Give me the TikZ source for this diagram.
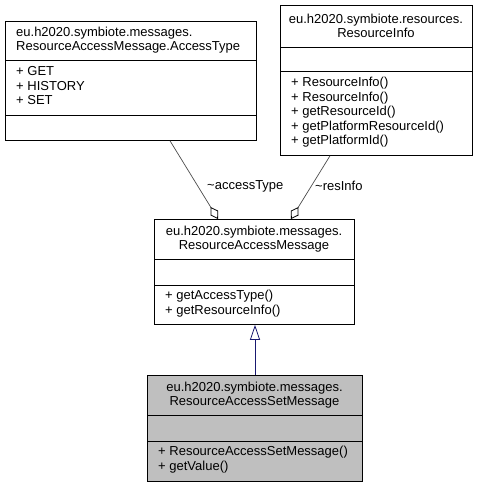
\documentclass[tikz,border=0pt]{standalone}
\usepackage{fontspec}
\setmainfont{Liberation Sans}
\usetikzlibrary{arrows.meta,calc}
\definecolor{edgeblue}{HTML}{191970}
\definecolor{boxgray}{HTML}{BFBFBF}
\begin{document}
\begin{tikzpicture}[x=1pt,y=-1pt,
  every node/.style={font=\fontsize{13}{14.5}\selectfont, inner sep=0pt},
  classbox/.style={draw=black, line width=0.8pt, anchor=north west, minimum width=#1, inner sep=0pt},
  divider/.style={draw=black, line width=0.8pt},
  member/.style={anchor=west, align=left},
  title/.style={align=center},
  agg/.style={draw=black!70, line width=0.7pt, -{Diamond[open, length=14pt, width=9pt, line width=0.8pt, color=black]}},
  inherit/.style={draw=edgeblue, line width=0.8pt, -{Triangle[open, length=15pt, width=10pt, line width=0.8pt]}},
  lbl/.style={anchor=west}]
\useasboundingbox (0,0) rectangle (483,487);
% Box 1: AccessType
\node[classbox=251pt, minimum height=119pt] (c1) at (5,21) {};
\draw[divider] ($(c1.north west)+(0,39)$) -- ($(c1.north east)+(0,39)$);
\draw[divider] ($(c1.north west)+(0,94)$) -- ($(c1.north east)+(0,94)$);
\node[title, align=left, anchor=west] (t1) at (16,40) {eu.h2020.symbiote.messages.\\ResourceAccessMessage.AccessType};
\node[member] (m1) at (16,86) {+ GET\\+ HISTORY\\+ SET};
% Box 2: ResourceInfo
\node[classbox=192pt, minimum height=150pt] (c2) at (280,5) {};
\draw[divider] ($(c2.north west)+(0,42)$) -- ($(c2.north east)+(0,42)$);
\draw[divider] ($(c2.north west)+(0,66)$) -- ($(c2.north east)+(0,66)$);
\node[title] (t2) at (376,26) {eu.h2020.symbiote.resources.\\ResourceInfo};
\node[member] (m2) at (291,112.5) {+ ResourceInfo()\\+ ResourceInfo()\\+ getResourceId()\\+ getPlatformResourceId()\\+ getPlatformId()};
% Box 3: ResourceAccessMessage
\node[classbox=200pt, minimum height=105pt] (c3) at (154,219) {};
\draw[divider] ($(c3.north west)+(0,40)$) -- ($(c3.north east)+(0,40)$);
\draw[divider] ($(c3.north west)+(0,66)$) -- ($(c3.north east)+(0,66)$);
\node[title] (t3) at (254,239) {eu.h2020.symbiote.messages.\\ResourceAccessMessage};
\node[member] (m3) at (165,303.5) {+ getAccessType()\\+ getResourceInfo()};
% Box 4: ResourceAccessSetMessage
\node[classbox=215pt, minimum height=106pt, fill=boxgray] (c4) at (147,375) {};
\draw[divider] ($(c4.north west)+(0,40)$) -- ($(c4.north east)+(0,40)$);
\draw[divider] ($(c4.north west)+(0,66)$) -- ($(c4.north east)+(0,66)$);
\node[title] (t4) at (254.5,395) {eu.h2020.symbiote.messages.\\ResourceAccessSetMessage};
\node[member] (m4) at (158,459.5) {+ ResourceAccessSetMessage()\\+ getValue()};
% Connectors
\draw[agg] ($(c1.south west)+(165,0)$) -- ($(c3.north west)+(64,0)$);
\draw[agg] ($(c2.south west)+(50,0)$) -- ($(c3.north west)+(137,0)$);
\node[lbl] (l1) at (207,186) {\textasciitilde accessType};
\node[lbl] (l2) at (315,186) {\textasciitilde resInfo};
\draw[inherit] ($(c4.north west)+(108,0)$) -- ($(c3.south west)+(101,0)$);
\end{tikzpicture}
\end{document}
